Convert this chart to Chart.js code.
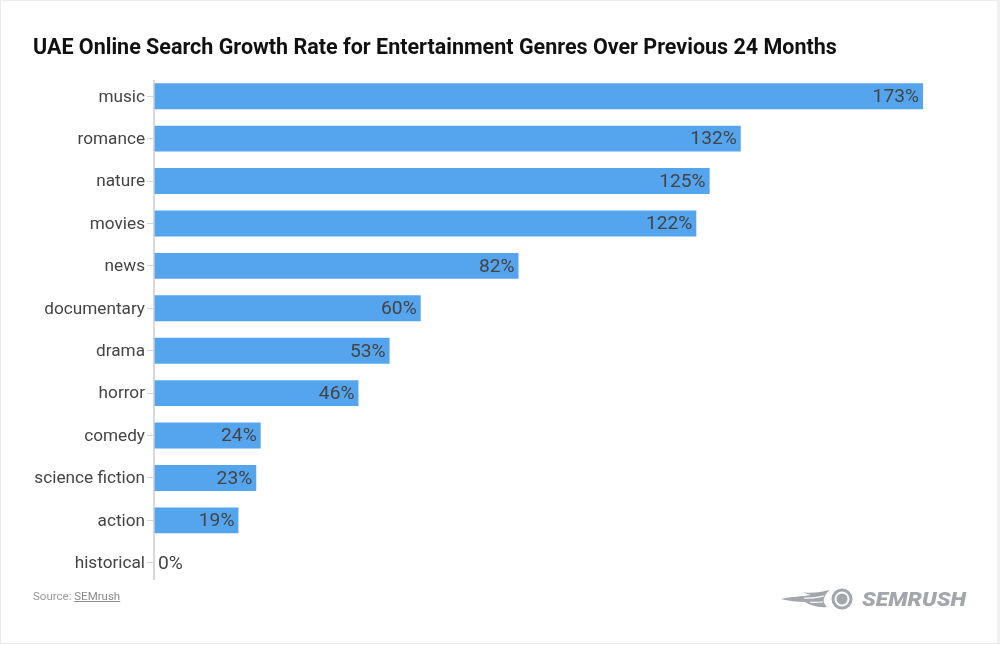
<!DOCTYPE html>
<html><head><meta charset="utf-8">
<script src="https://cdn.jsdelivr.net/npm/chart.js@4"></script>
<style>
html,body{margin:0;padding:0;background:#fff;width:1000px;height:645px;overflow:hidden}
#frame{position:absolute;left:0;top:0;width:996px;height:642px;border:1px solid #ececec;border-right:3px solid #f0f0f0;box-sizing:content-box}
#wrap{position:absolute;left:0;top:0;width:1000px;height:645px}
#title{position:absolute;left:33px;top:34px;font:700 21.5px Roboto,sans-serif;color:#111;white-space:nowrap}
#source{position:absolute;left:33px;top:589px;font:11.5px Roboto,sans-serif;color:#999;white-space:nowrap}
#source u{color:#8a8a8a}
#logo{position:absolute;left:780px;top:586px}
</style></head><body>
<div id="frame"></div>
<div id="wrap"><canvas id="c" width="1000" height="645"></canvas></div>
<div id="title">UAE Online Search Growth Rate for Entertainment Genres Over Previous 24 Months</div>
<div id="source">Source: <u>SEMrush</u></div>
<svg id="logo" width="190" height="26" viewBox="0 0 190 26">
<g fill="#a3a7ad">
<path d="M1 13 C12 10 22 11 31 9 C27 8 25 7 23 6 C32 8 40 6 50 4 C47 6 46 8 45 10 C43 13 43 17 47 21 C38 22 30 19 25 16 C17 16 8 15 1 13Z"/>
<circle cx="62" cy="13" r="10.5"/>
</g>
<path d="M24 12 C32 13 38 11 44 10 M30 16 C34 17 38 16 43 16" stroke="#fff" stroke-width="1.2" fill="none"/>
<circle cx="62" cy="13" r="7.5" fill="#fff"/><circle cx="62" cy="13" r="5.5" fill="#a3a7ad"/>
<text x="82" y="20" font-family="Roboto,sans-serif" font-weight="900" font-style="italic" font-size="20" textLength="104" lengthAdjust="spacingAndGlyphs" fill="#a3a7ad">SEMRUSH</text>
</svg>
<script>
const categories=["music","romance","nature","movies","news","documentary","drama","horror","comedy","science fiction","action","historical"];
const growthValues=[173,132,125,122,82,60,53,46,24,23,19,0];
const axisMax=173;

const valueLabels={id:"valueLabels",afterDatasetsDraw(chart){
  const g=chart.ctx,meta=chart.getDatasetMeta(0);
  g.save();g.font="19.2px Roboto, sans-serif";g.fillStyle="#444";g.textBaseline="middle";
  meta.data.forEach((bar,i)=>{
    const v=growthValues[i];
    if(v===0){g.textAlign="left";g.fillText(v+"%",bar.x+4,bar.y+1);}
    else{g.textAlign="right";g.fillText(v+"%",bar.x-4,bar.y+1);}
  });
  g.restore();
}};
const axisLine={id:"axisLine",afterDatasetsDraw(chart){
  const g=chart.ctx,a=chart.chartArea;
  g.save();g.strokeStyle="#c9ced3";g.lineWidth=1.5;g.beginPath();
  g.moveTo(a.left,a.top+5);g.lineTo(a.left,a.bottom-4);g.stroke();g.restore();
}};
const nudgeTicks={id:"nudgeTicks",beforeDraw(chart){
  chart.scales.y.getLabelItems(chart.chartArea).forEach(item=>{
    if(!item.nudged){item.options.translation[1]+=1;item.nudged=true;}
  });
}};
new Chart(document.getElementById("c"),{
  type:"bar",
  data:{labels:categories,datasets:[{data:growthValues,backgroundColor:"#55a4ee",borderWidth:0,barPercentage:1,categoryPercentage:0.6125}]},
  plugins:[axisLine,valueLabels,nudgeTicks],
  options:{
    indexAxis:"y",responsive:false,animation:false,devicePixelRatio:1,
    layout:{padding:{left:0,right:77,top:75,bottom:61}},
    plugins:{legend:{display:false},title:{display:false},tooltip:{enabled:false}},
    scales:{
      x:{display:false,min:0,max:axisMax},
      y:{
        afterFit(s){s.width=154;},
        border:{display:false},
        grid:{offset:false,drawOnChartArea:false,drawTicks:true,tickLength:7,color:"#d5d8db",lineWidth:1},
        ticks:{color:"#444",font:{family:"Roboto, sans-serif",size:17.2},padding:2}
      }
    }
  }
});
</script>
</body></html>
